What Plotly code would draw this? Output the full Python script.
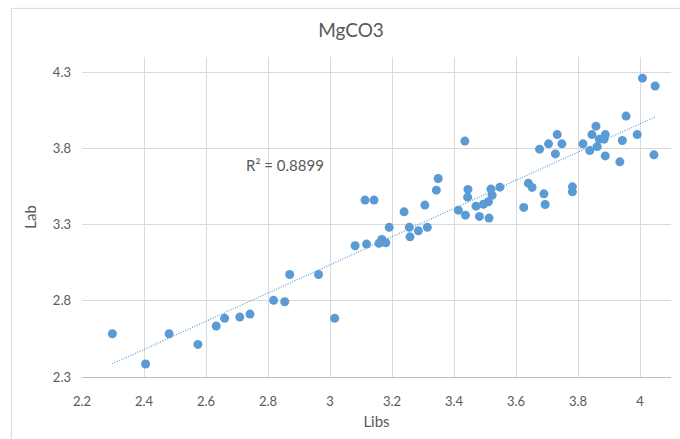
import numpy as np
import plotly.graph_objects as go

libs = [2.298, 2.405, 2.481, 2.574, 2.633, 2.660, 2.709, 2.742, 2.818, 2.854,
        2.870, 2.963, 3.015, 3.081, 3.118, 3.158, 3.167, 3.180, 3.167, 3.113,
        3.142, 3.349, 3.343, 3.435, 3.239, 3.306, 3.191, 3.256, 3.285, 3.314,
        3.258, 3.445, 3.444, 3.414, 3.437, 3.471, 3.482, 3.495, 3.511, 3.519,
        3.523, 3.513, 3.548, 3.640, 3.652, 3.625, 3.690, 3.694, 3.676, 3.705,
        3.727, 3.733, 3.748, 3.782, 3.782, 3.816, 3.838, 3.845, 3.858, 3.862,
        3.869, 3.884, 3.888, 3.888, 3.935, 3.943, 3.955, 3.991, 4.008, 4.049,
        4.045]
lab = [2.584, 2.385, 2.584, 2.514, 2.634, 2.685, 2.693, 2.713, 2.803, 2.794,
       2.973, 2.973, 2.685, 3.161, 3.172, 3.177, 3.187, 3.181, 3.203, 3.461,
       3.461, 3.603, 3.526, 3.848, 3.384, 3.428, 3.282, 3.282, 3.259, 3.282,
       3.220, 3.531, 3.480, 3.395, 3.362, 3.421, 3.354, 3.434, 3.450, 3.533,
       3.493, 3.343, 3.546, 3.572, 3.544, 3.413, 3.502, 3.432, 3.795, 3.830,
       3.764, 3.891, 3.830, 3.548, 3.515, 3.830, 3.786, 3.891, 3.946, 3.812,
       3.861, 3.861, 3.891, 3.751, 3.712, 3.852, 4.012, 3.891, 4.261, 4.210,
       3.758]

x_ticks = [2.2, 2.4, 2.6, 2.8, 3.0, 3.2, 3.4, 3.6, 3.8, 4.0]
x_ticktext = ["2.2", "2.4", "2.6", "2.8", "3", "3.2", "3.4", "3.6", "3.8", "4"]
y_ticks = [2.3, 2.8, 3.3, 3.8, 4.3]
y_ticktext = ["2.3", "2.8", "3.3", "3.8", "4.3"]
r2_label = "R² = 0.8899"

slope, intercept = np.polyfit(libs, lab, 1)
tx = np.array([min(libs), max(libs)])
ty = slope * tx + intercept

FONT = "Lato, 'Open Sans', sans-serif"
GREY = "#595959"

fig = go.Figure()
fig.add_trace(go.Scatter(x=tx, y=ty, mode="lines",
                         line=dict(color="#5B9BD5", width=1.2, dash="1px,1.5px"),
                         hoverinfo="skip", showlegend=False))
fig.add_trace(go.Scatter(x=libs, y=lab, mode="markers",
                         marker=dict(color="#5B9BD5", size=9, line=dict(width=0)),
                         showlegend=False))

fig.add_annotation(x=2.855, y=3.69, text=r2_label, showarrow=False,
                   font=dict(family=FONT, size=15, color=GREY))

fig.add_shape(type="rect", xref="paper", yref="paper",
              x0=-0.12, x1=1.1, y0=-0.4, y1=1.152,
              line=dict(color="#D9D9D9", width=1), layer="below")

fig.update_layout(
    width=680, height=439,
    margin=dict(l=82, r=9, t=57, b=62),
    paper_bgcolor="white", plot_bgcolor="white",
    title=dict(text="MgCO3", x=351 / 680, xanchor="center", xref="container",
               y=(439 - 30) / 439, yanchor="middle",
               font=dict(family=FONT, size=19, color=GREY)),
    font=dict(family=FONT, size=13, color=GREY),
    xaxis=dict(range=[2.2, 4.1], tickvals=x_ticks, ticktext=x_ticktext,
               showgrid=True, gridcolor="#D9D9D9", gridwidth=1,
               zeroline=False, showline=True, linecolor="#BFBFBF",
               ticks="", ticklabelstandoff=12,
               title=dict(text="Libs", font=dict(family=FONT, size=15, color=GREY),
                          standoff=8)),
    yaxis=dict(range=[2.3, 4.4], tickvals=y_ticks, ticktext=y_ticktext,
               showgrid=True, gridcolor="#D9D9D9", gridwidth=1,
               zeroline=False, showline=False, ticks="", ticklabelstandoff=10,
               title=dict(text="Lab", font=dict(family=FONT, size=15, color=GREY),
                          standoff=12)),
)

fig.write_html("out.html")
